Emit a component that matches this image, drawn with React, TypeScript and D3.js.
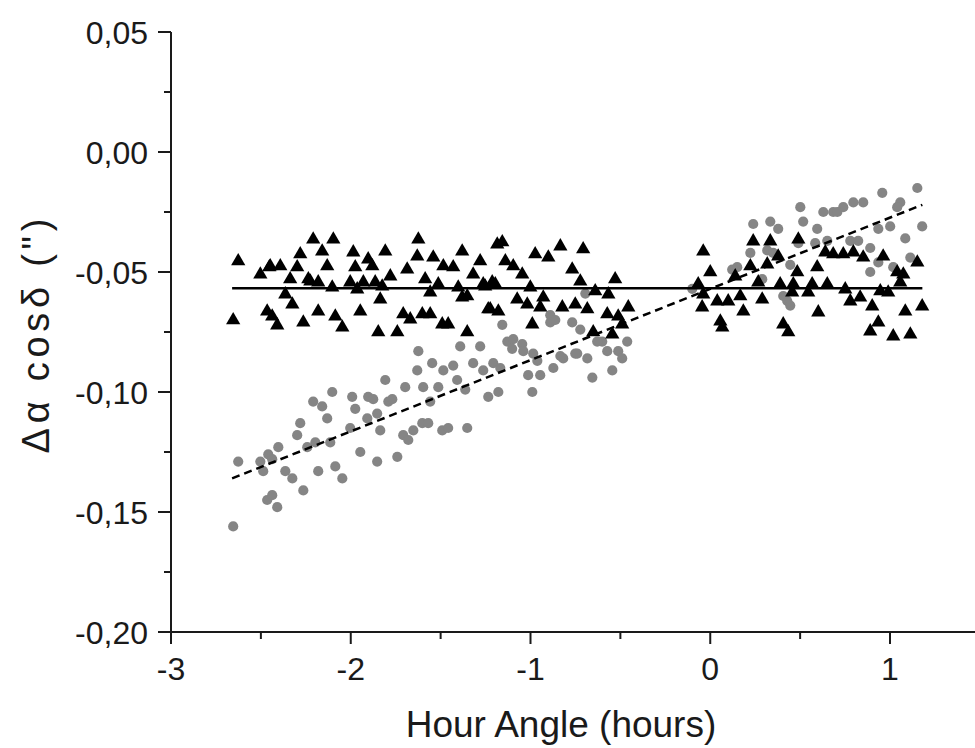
import React from "react";
import * as d3 from "d3";

// Series 1: triangles (hour angle [h], Δα cosδ ["])
const triangles: [number, number][] = [
  [-2.626, -0.0455], [-2.654, -0.0701], [-2.503, -0.0510], [-2.465, -0.0664], [-2.453, -0.0480],
  [-2.437, -0.0685], [-2.448, -0.0476], [-2.409, -0.0722], [-2.392, -0.0476], [-2.364, -0.0593],
  [-2.325, -0.0635], [-2.298, -0.0480], [-2.281, -0.0426], [-2.264, -0.0710], [-2.225, -0.0539],
  [-2.209, -0.0364], [-2.181, -0.0543], [-2.181, -0.0664], [-2.159, -0.0414], [-2.131, -0.0476],
  [-2.103, -0.0564], [-2.097, -0.0364], [-2.086, -0.0685], [-2.047, -0.0731], [-2.003, -0.0543],
  [-1.986, -0.0418], [-1.975, -0.0480], [-1.964, -0.0572], [-1.947, -0.0664], [-1.930, -0.0543],
  [-1.903, -0.0447], [-1.880, -0.0476], [-1.864, -0.0543], [-1.847, -0.0751], [-1.836, -0.0614],
  [-1.825, -0.0560], [-1.808, -0.0414], [-1.780, -0.0518], [-1.741, -0.0751], [-1.708, -0.0676],
  [-1.686, -0.0489], [-1.669, -0.0697], [-1.630, -0.0435], [-1.624, -0.0364], [-1.602, -0.0676],
  [-1.586, -0.0530], [-1.558, -0.0585], [-1.558, -0.0676], [-1.541, -0.0439], [-1.513, -0.0551],
  [-1.491, -0.0718], [-1.485, -0.0476], [-1.458, -0.0718], [-1.430, -0.0480], [-1.402, -0.0564],
  [-1.380, -0.0414], [-1.380, -0.0606], [-1.352, -0.0601], [-1.352, -0.0751], [-1.319, -0.0510],
  [-1.280, -0.0455], [-1.263, -0.0551], [-1.224, -0.0655], [-1.213, -0.0543], [-1.185, -0.0385],
  [-1.179, -0.0664], [-1.157, -0.0376], [-1.140, -0.0455], [-1.252, -0.0560], [-1.196, -0.0551],
  [-1.235, -0.0655], [-1.096, -0.0476], [-1.074, -0.0614], [-1.046, -0.0510], [-1.018, -0.0635],
  [-1.001, -0.0564], [-0.990, -0.0718], [-0.974, -0.0426], [-0.946, -0.0647], [-0.929, -0.0606],
  [-0.901, -0.0439], [-0.834, -0.0393], [-0.823, -0.0647], [-0.768, -0.0489], [-0.751, -0.0635],
  [-0.723, -0.0539], [-0.707, -0.0405], [-0.684, -0.0655], [-0.651, -0.0751], [-0.640, -0.0580],
  [-0.573, -0.0676], [-0.567, -0.0593], [-0.545, -0.0760], [-0.529, -0.0530], [-0.512, -0.0685],
  [-0.490, -0.0718], [-0.456, -0.0647], [-2.337, -0.0530], [-2.236, -0.0530],
  [-0.067, -0.0551], [-0.045, -0.0647], [-0.039, -0.0414], [-0.039, -0.0593], [0.000, -0.0501],
  [0.039, -0.0622], [0.056, -0.0706], [0.067, -0.0731], [0.100, -0.0622], [0.139, -0.0518],
  [0.167, -0.0601], [0.184, -0.0664], [0.223, -0.0476], [0.239, -0.0372], [0.267, -0.0543],
  [0.289, -0.0614], [0.317, -0.0468], [0.334, -0.0372], [0.378, -0.0435], [0.389, -0.0551],
  [0.406, -0.0718], [0.434, -0.0751], [0.456, -0.0585], [0.462, -0.0551], [0.484, -0.0501],
  [0.490, -0.0364], [0.545, -0.0585], [0.567, -0.0551], [0.595, -0.0480], [0.601, -0.0668],
  [0.640, -0.0418], [0.651, -0.0551], [0.684, -0.0426], [0.740, -0.0426], [0.751, -0.0572],
  [0.779, -0.0622], [0.796, -0.0418], [0.834, -0.0606], [0.851, -0.0439], [0.890, -0.0747],
  [0.901, -0.0643], [0.935, -0.0710], [0.946, -0.0580], [0.962, -0.0435], [0.990, -0.0585],
  [1.018, -0.0768], [1.040, -0.0501], [1.057, -0.0543], [1.074, -0.0510], [1.085, -0.0664],
  [1.113, -0.0760], [1.152, -0.0460], [1.179, -0.0643]
];

// Series 2: grey circles
const circles: [number, number][] = [
  [-2.654, -0.156], [-2.626, -0.129], [-2.503, -0.129], [-2.487, -0.133], [-2.459, -0.126],
  [-2.403, -0.123], [-2.437, -0.128], [-2.465, -0.145], [-2.437, -0.143], [-2.409, -0.148],
  [-2.364, -0.133], [-2.325, -0.136], [-2.298, -0.118], [-2.281, -0.113], [-2.264, -0.141],
  [-2.242, -0.123], [-2.197, -0.121], [-2.209, -0.104], [-2.159, -0.106], [-2.131, -0.111],
  [-2.181, -0.133], [-2.103, -0.100], [-2.086, -0.131], [-2.047, -0.136], [-2.114, -0.121],
  [-1.992, -0.102], [-1.975, -0.107], [-2.003, -0.115], [-1.947, -0.125], [-1.903, -0.102],
  [-1.875, -0.103], [-1.908, -0.111], [-1.853, -0.109], [-1.836, -0.116], [-1.853, -0.129],
  [-1.808, -0.095], [-1.791, -0.104], [-1.769, -0.103], [-1.741, -0.127], [-1.697, -0.098],
  [-1.708, -0.118], [-1.680, -0.120], [-1.652, -0.116], [-1.630, -0.091], [-1.624, -0.083],
  [-1.597, -0.098], [-1.602, -0.113], [-1.569, -0.113], [-1.547, -0.088], [-1.513, -0.098],
  [-1.558, -0.104], [-1.485, -0.091], [-1.491, -0.116], [-1.458, -0.115], [-1.430, -0.089],
  [-1.408, -0.095], [-1.391, -0.081], [-1.363, -0.099], [-1.352, -0.115], [-1.319, -0.088],
  [-1.280, -0.081], [-1.263, -0.091], [-1.235, -0.102], [-1.207, -0.088], [-1.179, -0.100],
  [-1.157, -0.072], [-1.129, -0.079], [-1.096, -0.078], [-1.046, -0.080], [-1.102, -0.082],
  [-1.040, -0.083], [-0.985, -0.084], [-1.168, -0.090], [-0.962, -0.087], [-1.013, -0.093],
  [-0.946, -0.093], [-0.873, -0.090], [-0.818, -0.086], [-0.890, -0.071], [-0.768, -0.071],
  [-0.723, -0.074], [-0.695, -0.059], [-0.740, -0.084], [-0.684, -0.086], [-0.656, -0.094],
  [-0.573, -0.083], [-0.512, -0.083], [-0.490, -0.086], [-0.545, -0.091], [-0.462, -0.079],
  [-0.601, -0.079], [-0.990, -0.100], [-0.890, -0.068], [-0.862, -0.070], [-0.834, -0.085],
  [-0.751, -0.084], [-0.629, -0.079],
  [-0.100, -0.057], [0.122, -0.049], [0.150, -0.048], [0.223, -0.042], [0.317, -0.041],
  [0.350, -0.042], [0.239, -0.030], [0.334, -0.029], [0.378, -0.032], [0.501, -0.023],
  [0.517, -0.029], [0.595, -0.032], [0.629, -0.025], [0.684, -0.025], [0.740, -0.023],
  [0.796, -0.021], [0.851, -0.021], [0.957, -0.017], [1.057, -0.021], [1.040, -0.023],
  [1.152, -0.015], [0.935, -0.032], [1.001, -0.031], [1.179, -0.031], [1.085, -0.036],
  [0.890, -0.040], [0.823, -0.037], [0.779, -0.037], [0.651, -0.037], [0.584, -0.038],
  [0.289, -0.053], [0.445, -0.047], [0.428, -0.062], [0.445, -0.064], [0.890, -0.050],
  [1.018, -0.048], [1.113, -0.044], [0.406, -0.060], [0.707, -0.025], [0.935, -0.046],
  [0.490, -0.038]
];

// Linear fits
const fitX = [-2.66, 1.18];
const fitTriangles = [-0.0568, -0.0568];
const fitCircles = [-0.136, -0.022];

const xMajor = [-3, -2, -1, 0, 1];
const xMinor = [-2.5, -1.5, -0.5, 0.5];
const yMajor = [0.05, 0.0, -0.05, -0.1, -0.15, -0.2];
const yMinor = [0.025, -0.025, -0.075, -0.125, -0.175];

const xTitle = "Hour Angle (hours)";
const yTitle = "\u0394\u03B1 cos\u03B4 (\")";

const W = 975;
const H = 748;
const FONT = "'Liberation Sans', Arial, Helvetica, sans-serif";

export default function App() {
  const x = d3.scaleLinear().domain([-3, 1]).range([171, 890]);
  const y = d3.scaleLinear().domain([-0.2, 0.05]).range([632, 32]);
  const tri = d3.symbol().type(d3.symbolTriangle).size(88)() as string;
  const fmt = (v: number) => d3.format(".2f")(v).replace(".", ",").replace("−", "-");
  const line = d3.line<number>().x((_, i) => x(fitX[i])).y((d) => y(d));
  const axisColor = "#1a1a1a";

  return (
    <svg width={W} height={H} style={{ position: "fixed", left: 0, top: 0, background: "#fff" }} fontFamily={FONT}>
      <rect width={W} height={H} fill="#fff" />
      {/* circles */}
      <g fill="#858585">
        {circles.map((d, i) => (
          <circle key={i} cx={x(d[0])} cy={y(d[1])} r={5.1} />
        ))}
      </g>
      {/* triangles */}
      <g fill="#000">
        {triangles.map((d, i) => (
          <path key={i} d={tri} transform={`translate(${x(d[0])},${y(d[1])})`} />
        ))}
      </g>
      {/* fits */}
      <path d={line(fitTriangles) || ""} fill="none" stroke="#000" strokeWidth={2.5} />
      <path d={line(fitCircles) || ""} fill="none" stroke="#000" strokeWidth={2.5} strokeDasharray="8,5" />
      {/* axes */}
      <g stroke={axisColor} strokeWidth={2} fill="none">
        <line x1={x(-3)} x2={x(-3)} y1={y(0.05)} y2={y(-0.2)} />
        <line x1={x(-3)} x2={W} y1={y(-0.2)} y2={y(-0.2)} />
        {yMajor.map((v) => (
          <line key={"ym" + v} x1={x(-3) - 13} x2={x(-3)} y1={y(v)} y2={y(v)} />
        ))}
        {yMinor.map((v) => (
          <line key={"yn" + v} x1={x(-3) - 7} x2={x(-3)} y1={y(v)} y2={y(v)} />
        ))}
        {xMajor.map((v) => (
          <line key={"xm" + v} x1={x(v)} x2={x(v)} y1={y(-0.2)} y2={y(-0.2) + 12} />
        ))}
        {xMinor.map((v) => (
          <line key={"xn" + v} x1={x(v)} x2={x(v)} y1={y(-0.2)} y2={y(-0.2) + 7} />
        ))}
      </g>
      <g fill="#1a1a1a" fontSize={32}>
        {yMajor.map((v) => (
          <text key={"yl" + v} x={148} y={y(v)} dy="0.36em" textAnchor="end">
            {fmt(v)}
          </text>
        ))}
        {xMajor.map((v) => (
          <text key={"xl" + v} x={x(v)} y={680} textAnchor="middle">
            {String(v)}
          </text>
        ))}
      </g>
      <text x={561} y={737} textAnchor="middle" fontSize={37} fill="#1a1a1a">
        {xTitle}
      </text>
      <text
        transform={`translate(49,336) rotate(-90)`}
        textAnchor="middle"
        fontSize={38}
        fill="#1a1a1a"
        textLength={235}
        lengthAdjust="spacing"
      >
        {yTitle}
      </text>
    </svg>
  );
}
